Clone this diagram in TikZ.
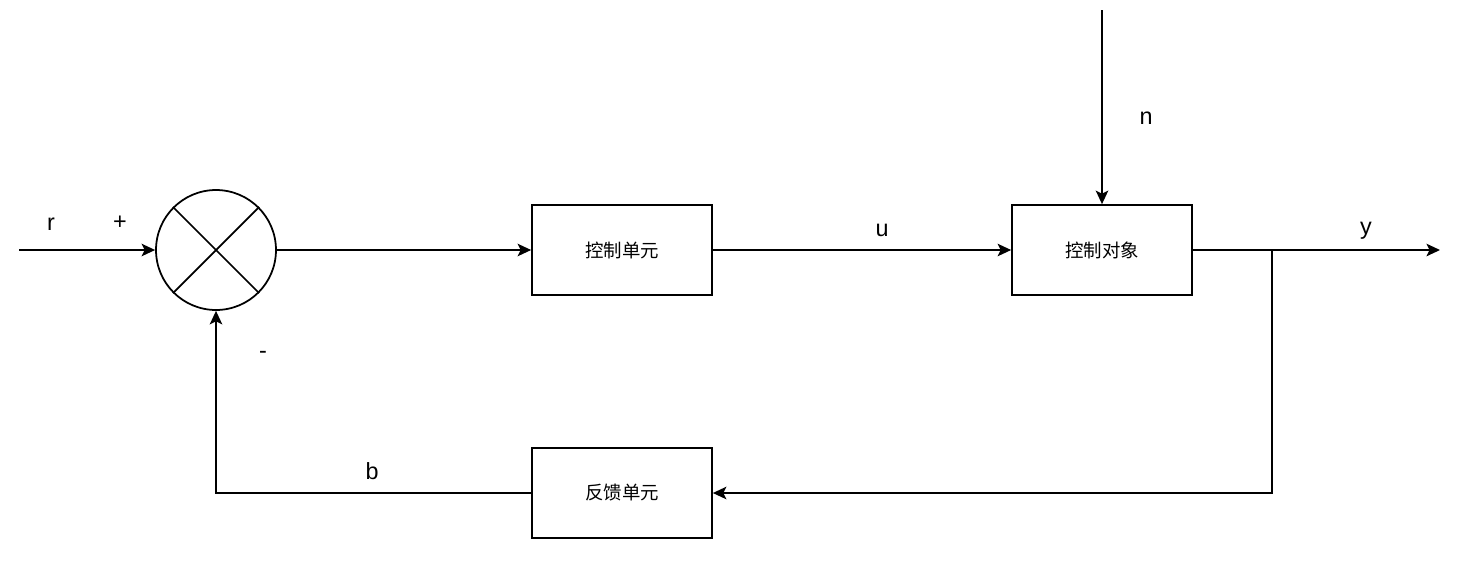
\documentclass[tikz,border=0pt]{standalone}
\usepackage{fontspec}
\setmainfont{Liberation Sans}
\newfontfamily\cjk{Noto Sans CJK SC}
\usetikzlibrary{arrows.meta}
\begin{document}
\begin{tikzpicture}[x=0.02cm,y=-0.02cm,line width=1pt,>={Stealth[length=2.7mm,width=2.5mm,inset=0.6mm]},
	block/.style={draw,minimum width=3.6cm,minimum height=1.8cm,inner sep=0pt,font=\cjk\fontsize{10.5}{12}\selectfont},
	lbl/.style={font=\fontsize{13.3}{15}\selectfont,inner sep=0pt}]
		\useasboundingbox (0,0) rectangle (1470,569);
		\node[draw,circle,minimum size=2.4cm,inner sep=0pt] (sum) at (216,250) {};
		\draw (sum.north west) -- (sum.south east);
		\draw (sum.north east) -- (sum.south west);
		\node[block] (ctrl) at (622,250) {控制单元};
		\node[block] (plant) at (1102,250) {控制对象};
		\node[block] (fb) at (622,493) {反馈单元};
		\coordinate (in) at (19,250);
		\coordinate (out) at (1440,250);
		\coordinate (dist) at (1102,10);
		\coordinate (split) at (1272,250);
		\draw[->] (in) -- (sum);
		\draw[->] (sum) -- (ctrl);
		\draw[->] (ctrl) -- (plant);
		\draw[->] (dist) -- (plant);
		\draw[->] (plant) -- (out);
		\draw[->] (split) |- (fb);
		\draw[->] (fb) -| (sum);
		\node[lbl] (r) at (51,224) {r};
		\node[lbl] (plus) at (120,223) {+};
		\node[lbl] (minus) at (263,355) {-};
		\node[lbl] (u) at (882,230) {u};
		\node[lbl] (y) at (1366,231) {y};
		\node[lbl] (n) at (1146,118) {n};
		\node[lbl] (b) at (372,471) {b};
\end{tikzpicture}
\end{document}
